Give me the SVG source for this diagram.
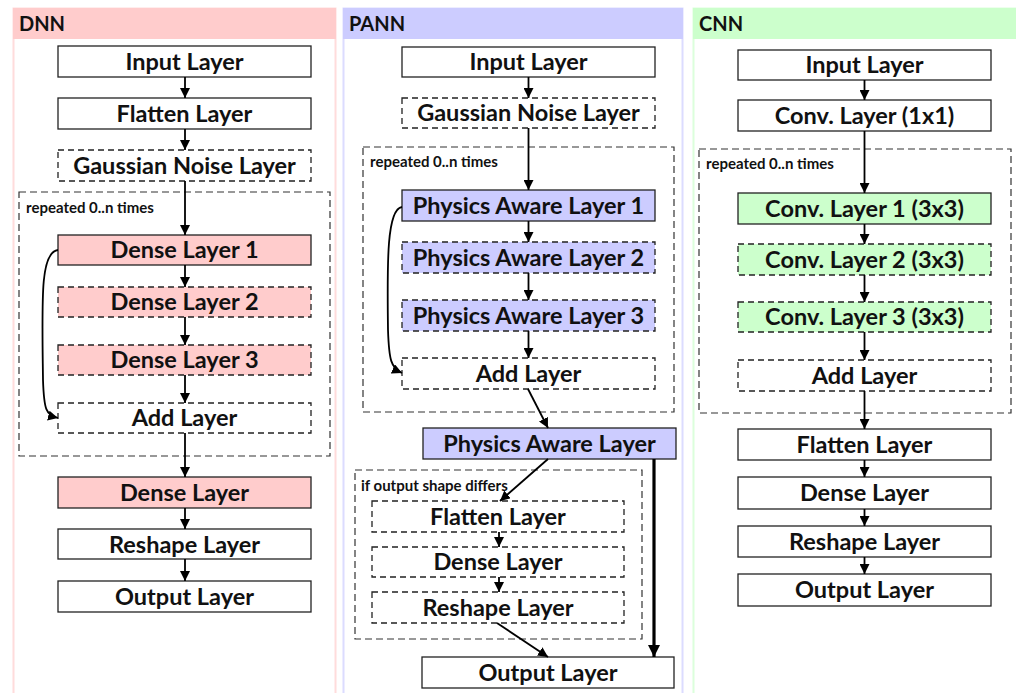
<svg xmlns="http://www.w3.org/2000/svg" width="1016" height="693" viewBox="0 0 1016 693">
<defs>
<marker id="ah" viewBox="0 0 10 10" refX="10" refY="5" markerWidth="10" markerHeight="10" markerUnits="userSpaceOnUse" orient="auto">
<path d="M0,0 L10,5 L0,10 z" fill="#000"/>
</marker>
<marker id="ahb" viewBox="0 0 10 10" refX="10" refY="5" markerWidth="12" markerHeight="12" markerUnits="userSpaceOnUse" orient="auto">
<path d="M0,0 L10,5 L0,10 z" fill="#000"/>
</marker>
</defs>
<style>
.n{stroke:#222;stroke-width:1.3}
.d{stroke-dasharray:6,4}
.w{fill:#fff}
.pk{fill:#ffcccc}
.bl{fill:#ccccff}
.gr{fill:#ccffcc}
.t{font-family:Lato,"Open Sans",sans-serif;font-weight:bold;font-size:23.5px;fill:#111;text-anchor:middle}
.h{font-family:Lato,"Open Sans",sans-serif;font-weight:bold;font-size:20px;fill:#111}
.s{font-family:Lato,"Open Sans",sans-serif;font-weight:bold;font-size:15px;fill:#111}
.grp{fill:none;stroke:#333;stroke-width:1.2;stroke-dasharray:7,4}
.c{fill:none;stroke:#000;stroke-width:1.8;marker-end:url(#ah)}
.cb{fill:none;stroke:#000;stroke-width:3.2;marker-end:url(#ahb)}
</style>
<rect width="1016" height="693" fill="#fff"/>
<g id="panel-dnn">
<rect x="13.5" y="8.5" width="322" height="690" fill="#fff" stroke="#ffdcdc" stroke-width="2"/>
<rect x="13" y="8" width="323" height="31" fill="#ffcccc"/>
<text class="h" x="19" y="31">DNN</text>
</g>
<g id="panel-pann">
<rect x="343.5" y="8.5" width="339" height="690" fill="#fff" stroke="#dcdcff" stroke-width="2"/>
<rect x="343" y="8" width="340" height="31" fill="#ccccff"/>
<text class="h" x="349" y="31">PANN</text>
</g>
<g id="panel-cnn">
<rect x="693.5" y="8.5" width="330" height="690" fill="#fff" stroke="#dcffdc" stroke-width="2"/>
<rect x="693" y="8" width="323" height="31" fill="#ccffcc"/>
<text class="h" x="699" y="31">CNN</text>
</g>
<g id="dnn-repeat"><rect class="grp" x="19" y="192" width="311" height="264"/><text class="s" x="26" y="213">repeated 0..n times</text></g>
<g id="pann-repeat"><rect class="grp" x="363" y="147" width="311" height="265"/><text class="s" x="370" y="167">repeated 0..n times</text></g>
<g id="pann-ifout"><rect class="grp" x="355" y="470" width="287" height="169"/><text class="s" x="361" y="491">if output shape differs</text></g>
<g id="cnn-repeat"><rect class="grp" x="699" y="149" width="312" height="264"/><text class="s" x="706" y="169">repeated 0..n times</text></g>
<g id="dnn-input"><rect class="n w" x="58" y="46" width="253" height="31"/><text class="t" x="184.5" y="70">Input Layer</text></g>
<g id="dnn-flatten"><rect class="n w" x="58" y="98" width="253" height="31"/><text class="t" x="184.5" y="122">Flatten Layer</text></g>
<g id="dnn-noise"><rect class="n w d" x="58" y="150" width="253" height="31"/><text class="t" x="184.5" y="174">Gaussian Noise Layer</text></g>
<g id="dnn-dense1"><rect class="n pk" x="58" y="235" width="253" height="30"/><text class="t" x="184.5" y="258">Dense Layer 1</text></g>
<g id="dnn-dense2"><rect class="n pk d" x="58" y="287" width="253" height="30"/><text class="t" x="184.5" y="310">Dense Layer 2</text></g>
<g id="dnn-dense3"><rect class="n pk d" x="58" y="345" width="253" height="30"/><text class="t" x="184.5" y="368">Dense Layer 3</text></g>
<g id="dnn-add"><rect class="n w d" x="58" y="403" width="253" height="30"/><text class="t" x="184.5" y="426">Add Layer</text></g>
<g id="dnn-dense"><rect class="n pk" x="58" y="477" width="253" height="31"/><text class="t" x="184.5" y="501">Dense Layer</text></g>
<g id="dnn-reshape"><rect class="n w" x="58" y="529" width="253" height="30"/><text class="t" x="184.5" y="553">Reshape Layer</text></g>
<g id="dnn-output"><rect class="n w" x="58" y="581" width="253" height="31"/><text class="t" x="184.5" y="605">Output Layer</text></g>
<g id="pann-input"><rect class="n w" x="402" y="47" width="253" height="30"/><text class="t" x="528.5" y="70">Input Layer</text></g>
<g id="pann-noise"><rect class="n w d" x="402" y="98" width="253" height="30"/><text class="t" x="528.5" y="121">Gaussian Noise Layer</text></g>
<g id="pann-pal1"><rect class="n bl" x="402" y="190" width="253" height="31"/><text class="t" x="528.5" y="214">Physics Aware Layer 1</text></g>
<g id="pann-pal2"><rect class="n bl d" x="402" y="242" width="253" height="31"/><text class="t" x="528.5" y="266">Physics Aware Layer 2</text></g>
<g id="pann-pal3"><rect class="n bl d" x="402" y="300" width="253" height="31"/><text class="t" x="528.5" y="324">Physics Aware Layer 3</text></g>
<g id="pann-add"><rect class="n w d" x="402" y="358" width="253" height="31"/><text class="t" x="528.5" y="382">Add Layer</text></g>
<g id="pann-pal"><rect class="n bl" x="423" y="428" width="253" height="31"/><text class="t" x="549.5" y="452">Physics Aware Layer</text></g>
<g id="pann-flatten"><rect class="n w d" x="372" y="501" width="252" height="31"/><text class="t" x="498" y="525">Flatten Layer</text></g>
<g id="pann-dense"><rect class="n w d" x="372" y="547" width="252" height="30"/><text class="t" x="498" y="570">Dense Layer</text></g>
<g id="pann-reshape"><rect class="n w d" x="372" y="592" width="252" height="31"/><text class="t" x="498" y="616">Reshape Layer</text></g>
<g id="pann-output"><rect class="n w" x="422" y="657" width="252" height="31"/><text class="t" x="548" y="681">Output Layer</text></g>
<g id="cnn-input"><rect class="n w" x="738" y="50" width="253" height="30"/><text class="t" x="864.5" y="73">Input Layer</text></g>
<g id="cnn-conv11"><rect class="n w" x="738" y="100" width="253" height="31"/><text class="t" x="864.5" y="124">Conv. Layer (1x1)</text></g>
<g id="cnn-conv1"><rect class="n gr" x="738" y="193" width="253" height="31"/><text class="t" x="864.5" y="217">Conv. Layer 1 (3x3)</text></g>
<g id="cnn-conv2"><rect class="n gr d" x="738" y="244" width="253" height="31"/><text class="t" x="864.5" y="268">Conv. Layer 2 (3x3)</text></g>
<g id="cnn-conv3"><rect class="n gr d" x="738" y="302" width="253" height="30"/><text class="t" x="864.5" y="325">Conv. Layer 3 (3x3)</text></g>
<g id="cnn-add"><rect class="n w d" x="738" y="360" width="253" height="31"/><text class="t" x="864.5" y="384">Add Layer</text></g>
<g id="cnn-flatten"><rect class="n w" x="738" y="429" width="253" height="31"/><text class="t" x="864.5" y="453">Flatten Layer</text></g>
<g id="cnn-dense"><rect class="n w" x="738" y="477" width="253" height="32"/><text class="t" x="864.5" y="501">Dense Layer</text></g>
<g id="cnn-reshape"><rect class="n w" x="738" y="526" width="253" height="31"/><text class="t" x="864.5" y="550">Reshape Layer</text></g>
<g id="cnn-output"><rect class="n w" x="738" y="574" width="253" height="32"/><text class="t" x="864.5" y="598">Output Layer</text></g>
<g id="connectors">
<path class="c" d="M185,77 V98"/>
<path class="c" d="M185,129 V150"/>
<path class="c" d="M185,181 V235"/>
<path class="c" d="M185,265 V287"/>
<path class="c" d="M185,317 V345"/>
<path class="c" d="M185,375 V403"/>
<path class="c" d="M185,433 V477"/>
<path class="c" d="M185,508 V529"/>
<path class="c" d="M185,559 V581"/>
<path class="c" d="M58,250 C40,252 42,300 43,380 C44,410 46,415 58,418"/>
<path class="c" d="M528.5,77 V98"/>
<path class="c" d="M528.5,128 V190"/>
<path class="c" d="M528.5,221 V242"/>
<path class="c" d="M528.5,273 V300"/>
<path class="c" d="M528.5,331 V358"/>
<path class="c" d="M402,207 C387,209 387,260 388,330 C389,360 391,368 402,373"/>
<path class="c" d="M528,389 L548,428"/>
<path class="c" d="M548,459 L500,501"/>
<path class="c" d="M499,532 V547"/>
<path class="c" d="M499,577 V592"/>
<path class="c" d="M497,623 L548,657"/>
<path class="cb" d="M654,459 V657"/>
<path class="c" d="M864.5,80 V100"/>
<path class="c" d="M864.5,131 V193"/>
<path class="c" d="M864.5,224 V244"/>
<path class="c" d="M864.5,275 V302"/>
<path class="c" d="M864.5,332 V360"/>
<path class="c" d="M864.5,391 V429"/>
<path class="c" d="M864.5,460 V477"/>
<path class="c" d="M864.5,509 V526"/>
<path class="c" d="M864.5,557 V574"/>
</g>
</svg>
